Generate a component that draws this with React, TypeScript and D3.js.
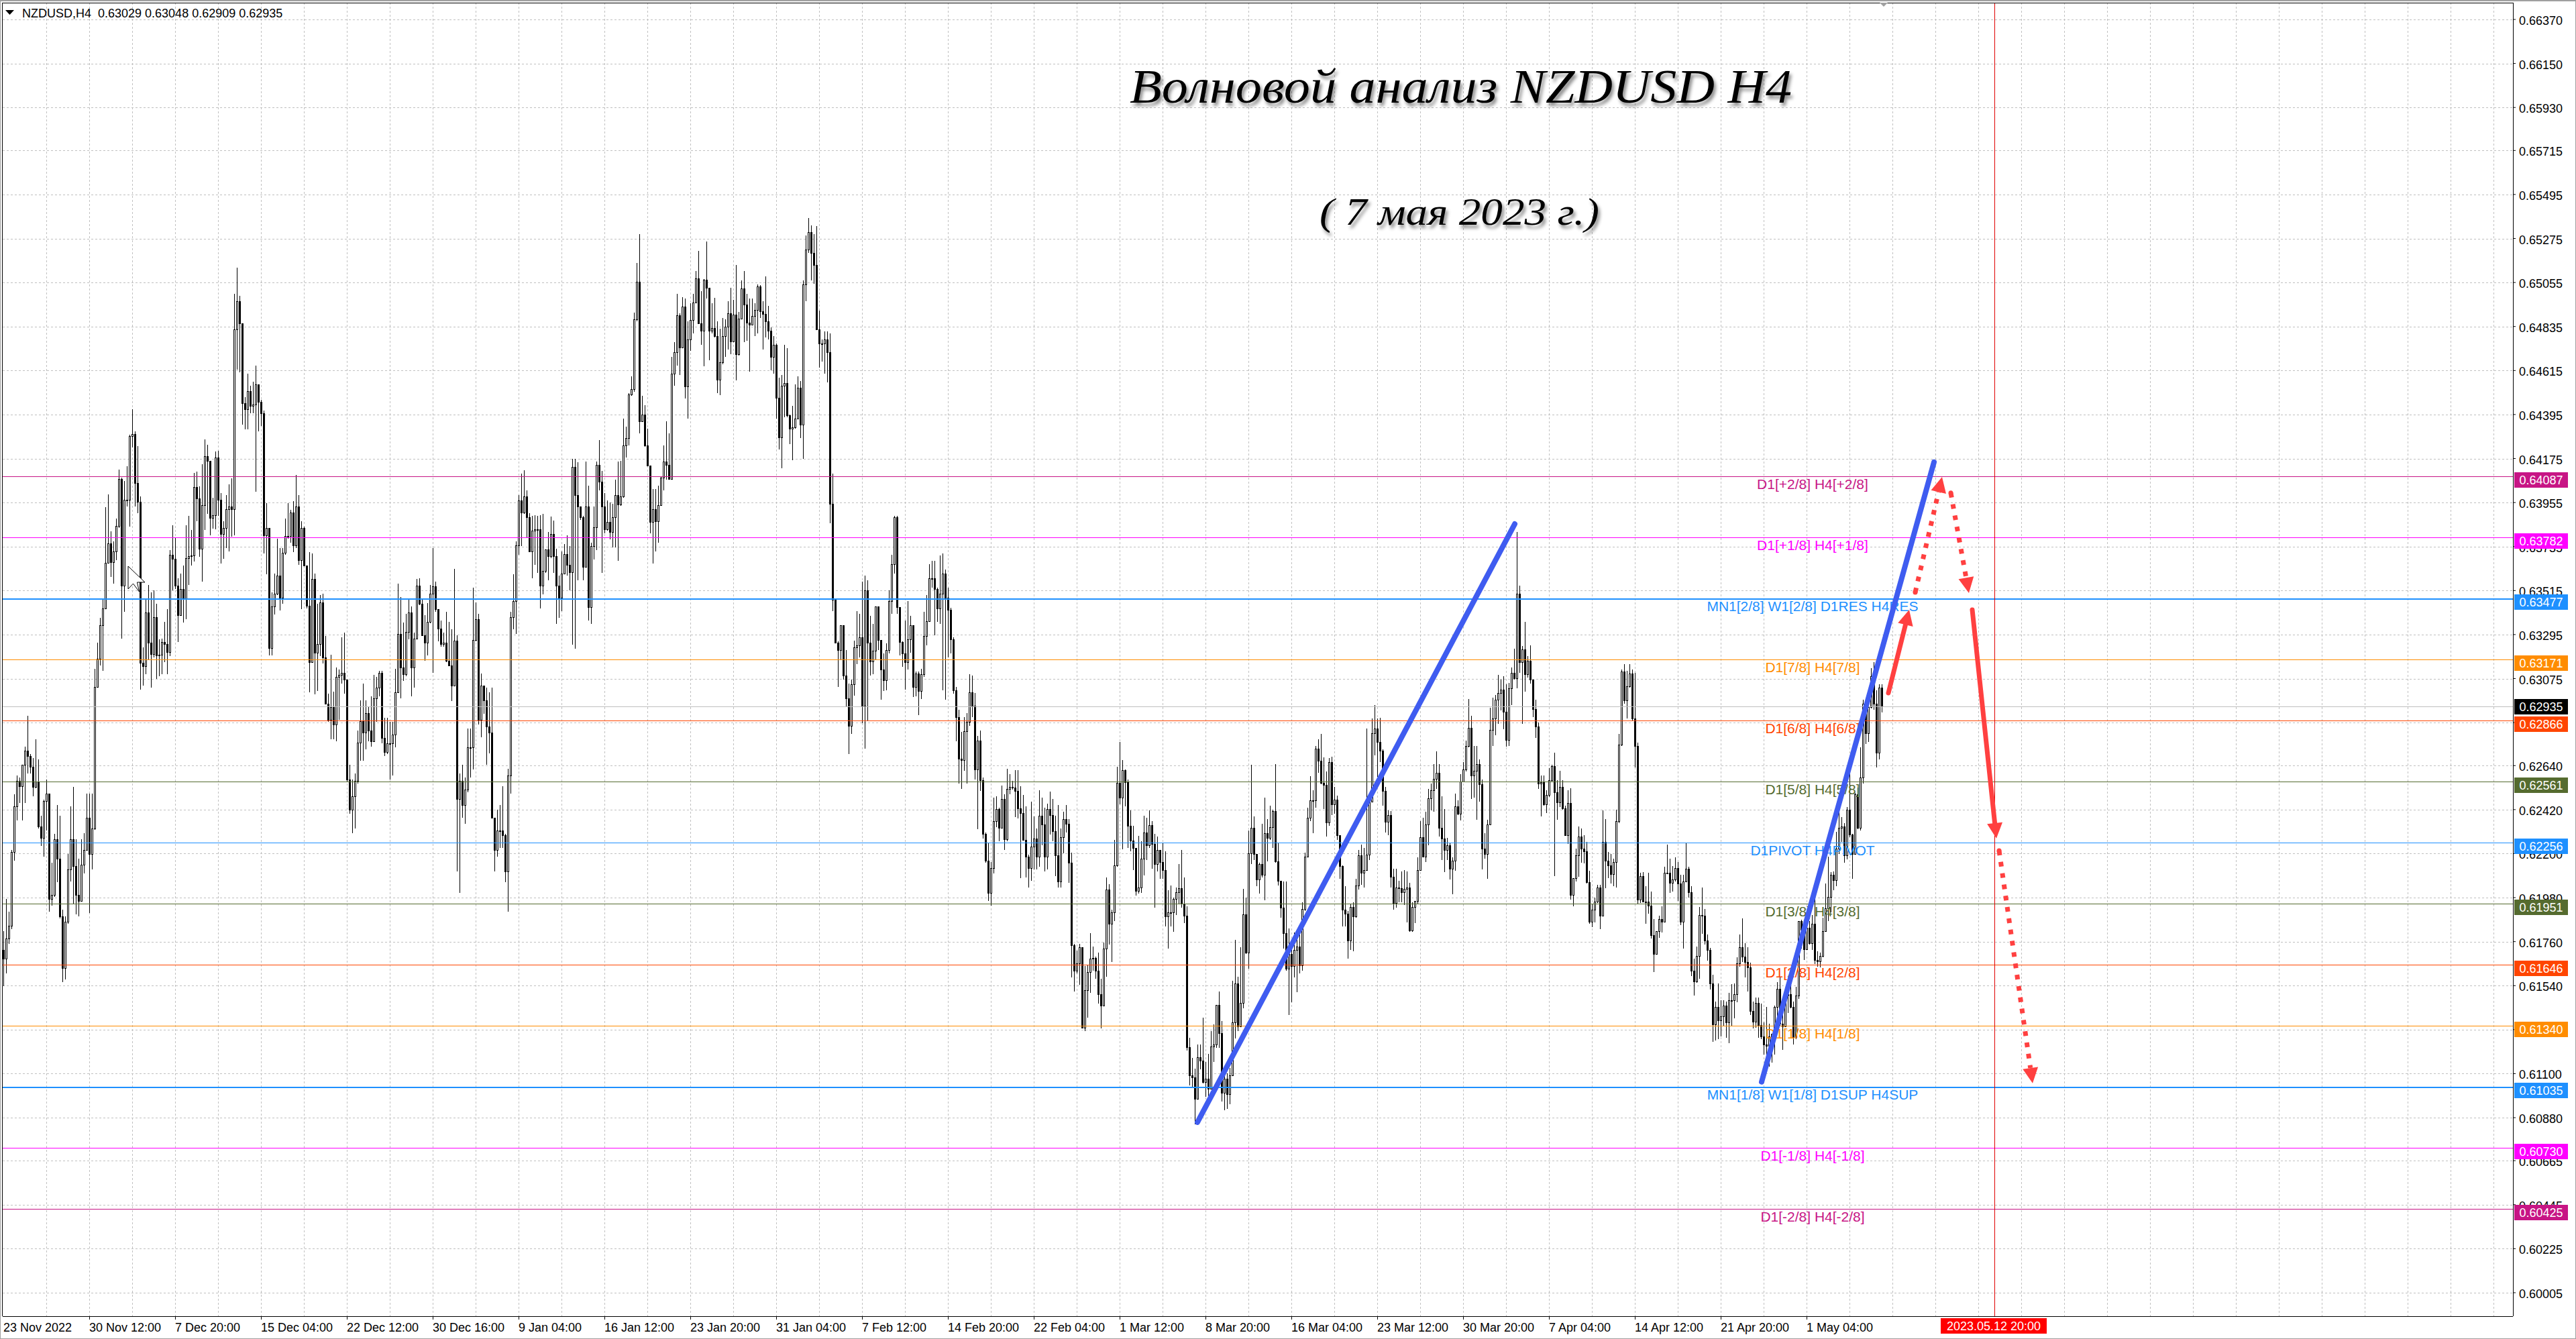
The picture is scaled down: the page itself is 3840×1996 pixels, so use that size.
import React from "react";
import * as d3 from "d3";

const symbolHeader = "NZDUSD,H4  0.63029 0.63048 0.62909 0.62935";
const titleText = "Волновой анализ NZDUSD H4";
const subtitleText = "( 7 мая 2023 г.)";
const lastBarTimeTag = "2023.05.12 20:00";

const yTicks = ["0.66370","0.66150","0.65930","0.65715","0.65495","0.65275","0.65055","0.64835","0.64615","0.64395","0.64175","0.63955","0.63735","0.63515","0.63295","0.63075","0.62855","0.62640","0.62420","0.62200","0.61980","0.61760","0.61540","0.61320","0.61100","0.60880","0.60665","0.60445","0.60225","0.60005"];
const xTickLabels = ["23 Nov 2022","30 Nov 12:00","7 Dec 20:00","15 Dec 04:00","22 Dec 12:00","30 Dec 16:00","9 Jan 04:00","16 Jan 12:00","23 Jan 20:00","31 Jan 04:00","7 Feb 12:00","14 Feb 20:00","22 Feb 04:00","1 Mar 12:00","8 Mar 20:00","16 Mar 04:00","23 Mar 12:00","30 Mar 20:00","7 Apr 04:00","14 Apr 12:00","21 Apr 20:00","1 May 04:00"];

// Prices below are in points above 0.60000
const firstOpen = 1717;
const closes = [
1674,1774,1838,2207,2436,2564,2538,2645,2713,2687,
2634,2534,2559,2335,2278,2463,2500,1973,1994,2271,
2175,1888,1627,1860,2122,2271,2137,1994,1962,2144,
2218,2378,2197,2325,3033,3175,3343,3424,3653,3751,
3656,3709,3837,4073,3541,3969,3969,4288,4299,4053,
3958,3153,3138,3404,3253,3197,3382,3192,3194,3259,
3248,3209,3695,3673,3541,3393,3522,3477,3678,3686,
3690,4034,3977,3723,3941,4187,4162,3880,3891,4181,
3969,3798,3828,3921,3935,3921,4820,4960,4850,4453,
4422,4511,4438,4446,4545,4457,4403,3790,3827,3228,
3435,3500,3589,3480,3704,3787,3787,3904,3740,3935,
3667,3827,3639,3438,3158,3574,3205,3248,3455,3181,
2948,2869,2933,2847,3082,3093,3104,3071,2570,2421,
2485,2564,2756,2862,2805,2901,2815,2762,2975,3029,
3103,2777,2709,2751,2751,2794,3007,3298,3130,3097,
3309,3404,3130,3276,3541,3449,3293,3253,3360,3500,
3536,3421,3326,3248,3253,3164,3142,3041,3265,2474,
2564,2442,2521,2730,2730,3268,3373,2869,3039,2965,
2837,2805,2378,2218,2314,2314,2293,2111,2591,3383,
3463,3742,3964,3904,3986,3882,3712,3814,3822,3822,
3540,3612,3720,3687,3799,3687,3540,3478,3600,3697,
3642,3608,4132,3994,3937,3882,3635,3937,3433,3739,
3832,4144,4061,3934,3822,3859,3807,3882,3993,3946,
3986,4241,4278,4495,4521,4870,5060,4361,4395,4241,
4141,3859,3922,3862,3942,4081,4159,4143,4072,4600,
4705,4892,4730,4934,4536,4770,4867,4955,5075,4850,
4814,5069,5030,4814,4829,4787,4570,4656,4787,4835,
4900,4760,4895,4695,4874,5024,4945,4855,4844,4889,
4919,5034,4910,4898,4862,4814,4683,4742,4480,4281,
4540,4551,4391,4326,4331,4376,4530,4346,5045,5221,
5308,5204,5144,4820,4750,4750,4769,4705,3949,3470,
3253,3218,3343,3090,2977,2839,3047,3231,3241,3283,
2938,3515,3253,3160,3215,3437,3268,3122,3066,3218,
3463,3647,3882,3433,3259,3202,3156,3272,3343,3032,
3100,3013,3096,3287,3362,3575,3578,3523,3425,3500,
3600,3480,3420,3272,3015,2882,2673,2669,2811,2859,
3006,2938,2621,2765,2566,2300,2166,2005,2127,2361,
2422,2329,2474,2271,2522,2535,2531,2515,2425,2403,
2268,2185,2127,2236,2275,2185,2390,2345,2185,2422,
2394,2313,2191,2061,2281,2371,2348,2153,1742,1614,
1650,1732,1328,1518,1608,1676,1678,1614,1496,1441,
1727,2022,1851,1907,2140,2553,2480,2617,2557,2339,
2266,2227,2014,2031,2176,2307,2242,2343,2249,2147,
2220,2157,2118,1885,1907,1907,1973,2006,2026,1951,
1890,1231,1090,1081,974,1183,1166,1057,1075,1023,
1235,1246,1442,1304,1003,1075,999,1093,1358,1551,
1337,1453,1896,1704,2201,2329,2198,2070,2147,2093,
2303,2278,2332,2413,2162,2064,1929,1802,1624,1700,
1638,1718,1736,1643,1922,2186,2380,2467,2467,2724,
2663,2554,2544,2355,2656,2445,2471,2292,2137,1919,
1900,1765,1932,1888,2041,2191,2103,2118,2195,2460,
2801,2826,2758,2714,2515,2358,2394,2085,1954,2031,
2026,2007,2023,2032,1817,1933,1962,2118,2282,2186,
2346,2477,2518,2573,2605,2329,2274,2220,2242,2125,
2166,2435,2399,2561,2620,2739,2828,2592,2614,2648,
2546,2224,2198,2347,2819,2877,2968,3002,3019,2908,
2768,3025,3105,3076,3499,3156,3220,3096,3165,3071,
2922,2836,2549,2558,2446,2494,2566,2638,2506,2455,
2532,2426,2292,2453,1993,2079,2193,2284,2224,2210,
2056,1861,1919,1959,2032,1890,2258,2164,2142,2096,
2159,2364,2746,3110,2965,3037,3100,2877,2737,1971,
2087,1959,1959,1941,1793,1697,1813,1873,1861,2104,
2104,2053,2070,2127,2049,1861,2061,2125,2006,1614,
1561,1690,1892,1890,1764,1718,1551,1347,1433,1367,
1385,1440,1357,1468,1468,1496,1653,1732,1686,1658,
1632,1415,1361,1454,1343,1287,1246,1239,1286,1300,
1433,1524,1350,1336,1489,1496,1433,1283,1492,1864,
1820,1722,1829,1753,1850,1670,1663,1690,1811,1927,
1982,2093,2066,2226,2330,2337,2191,2420,2295,2198,
2497,2330,2580,2948,2802,2934,3087,2951,2705,3029,2935];

const highs = [
1813,1973,1909,2220,2495,2591,2581,2645,2734,2890,
2698,2677,2773,2670,2389,2470,2570,2240,2154,2300,
2442,2389,1920,1888,2197,2436,2534,2271,2175,2271,
2303,2500,2500,2500,3125,3253,3380,3471,3932,3997,
3812,3760,3874,4120,4081,4064,4137,4295,4422,4310,
4237,3986,3231,3471,3544,3505,3516,3449,3270,3276,
3360,3421,3717,3840,3779,3578,3600,3640,3840,3888,
3818,4103,4109,4036,4148,4271,4243,4114,3980,4209,
4215,4002,3863,3991,4045,4075,5000,5129,4990,4620,
4483,4600,4540,4560,4640,4540,4470,4416,3952,3827,
3505,3600,3773,3729,3729,3876,3952,3919,3963,4092,
3991,3863,3835,3639,3706,3701,3600,3449,3494,3499,
3287,3000,3194,3010,3130,3120,3281,3304,3071,2645,
2570,2600,2815,2965,3050,2965,2933,2986,3093,3082,
3114,3114,2880,2880,2858,2858,3125,3550,3483,3354,
3400,3471,3437,3304,3572,3578,3472,3393,3452,3544,
3729,3561,3365,3365,3304,3410,3360,3320,3622,3290,
2600,2645,2581,2826,2826,3530,3455,3400,3100,3040,
3029,3007,3029,2378,2420,2442,2538,2300,2623,3410,
3597,3762,3994,4099,4117,4016,3901,3889,3892,3889,
3892,3897,3720,3807,3886,3865,3724,3590,3710,3747,
3792,3739,4174,4174,4156,3919,3889,4159,4039,3755,
3934,4159,4267,4114,4001,3964,3957,3949,4069,4159,
4162,4376,4335,4503,4585,4904,5151,5296,4488,4443,
4323,3963,4024,4024,4039,4084,4241,4361,4301,4683,
4757,4997,4900,4982,4974,4862,4952,4997,5114,5214,
5012,5072,5259,5000,4952,4979,4862,4825,4877,4870,
4960,5027,4967,5144,4907,5064,5114,4997,4975,4975,
4952,5045,5042,4960,5084,4937,4832,4787,4750,4578,
4593,4745,4727,4395,4440,4545,4585,4563,5064,5289,
5379,5341,5296,5338,4915,4772,4810,4810,4802,4099,
3470,3260,3343,3343,3218,3050,3071,3266,3413,3398,
3560,3590,3567,3388,3347,3437,3437,3260,3200,3250,
3515,3695,3889,3889,3433,3260,3365,3462,3388,3343,
3112,3109,3125,3410,3493,3647,3664,3664,3530,3690,
3700,3620,3530,3430,3282,3032,2920,2807,2884,2904,
3096,3089,3002,2788,2814,2579,2304,2256,2159,2480,
2487,2429,2540,2497,2625,2596,2564,2617,2617,2538,
2493,2435,2194,2461,2386,2326,2516,2480,2429,2451,
2510,2474,2390,2442,2326,2410,2442,2371,2204,1748,
1714,1749,1726,1637,1640,1804,1736,1685,1704,1575,
1755,2082,2048,1920,2268,2634,2759,2669,2621,2570,
2416,2339,2230,2288,2262,2391,2380,2416,2361,2300,
2285,2198,2256,2212,2016,2041,1980,2031,2147,2217,
2082,1936,1279,1180,1125,1246,1246,1381,1158,1198,
1314,1347,1442,1512,1362,1107,1100,1129,1565,1769,
1584,1733,2023,1980,2314,2644,2387,2176,2154,2348,
2481,2372,2438,2419,2646,2256,2064,2060,2060,1827,
1718,1805,1813,1820,1958,2205,2431,2588,2518,2739,
2772,2797,2681,2612,2678,2685,2532,2489,2292,2140,
2038,1914,1951,1958,2074,2220,2245,2227,2826,2489,
2874,2942,2874,2878,2721,2532,2416,2413,2125,2125,
2064,2111,2118,2111,2053,1958,1965,2183,2361,2380,
2409,2525,2550,2646,2710,2649,2486,2423,2278,2256,
2183,2500,2467,2598,2658,2765,2972,2888,2737,2737,
2672,2570,2301,2369,2930,2980,2994,3093,3071,3088,
3045,3053,3131,3225,3807,3541,3237,3357,3186,3242,
3071,2968,2857,2592,2592,2518,2626,2643,2703,2566,
2614,2566,2438,2518,2527,2079,2224,2335,2327,2292,
2258,2113,1950,1981,2044,2044,2415,2374,2207,2198,
2176,2420,2797,3122,3148,3114,3148,3122,3102,2754,
2104,2107,2036,2104,2010,1873,1813,1890,1936,2135,
2244,2175,2138,2181,2159,2095,2095,2254,2135,2036,
1676,1736,1933,2032,1924,1796,1728,1593,1461,1551,
1468,1468,1461,1503,1547,1551,1683,1795,1875,1753,
1732,1656,1461,1482,1482,1449,1357,1433,1350,1300,
1440,1558,1586,1475,1503,1530,1547,1461,1534,1864,
1871,1864,1864,1864,1892,1989,1711,1704,1878,2052,
2184,2107,2111,2309,2406,2381,2351,2434,2601,2298,
2504,2531,2733,2969,2955,2934,3126,3157,3018,3046,3048];

const lows = [
1536,1600,1749,1824,2165,2367,2453,2367,2453,2602,
2602,2485,2527,2325,2239,2186,2314,1909,1941,1983,
2058,1877,1557,1570,1850,2060,1950,1898,1888,1962,
2100,2220,1902,2120,2320,3030,3140,3114,3421,3656,
3583,3550,3667,3829,3276,3410,3935,3835,4232,3935,
3902,3019,3041,3097,3168,3030,3180,3075,3086,3097,
3157,3097,3186,3516,3522,3259,3390,3355,3371,3544,
3641,3661,3863,3684,3561,3818,3900,3790,3824,3820,
3890,3650,3673,3729,3712,3784,3790,4620,4606,4343,
4321,4321,4400,4400,4008,4310,4339,3700,3597,3192,
3192,3395,3494,3415,3449,3695,3773,3753,3706,3729,
3645,3421,3639,3427,3007,3158,2996,3013,3186,3150,
2948,2858,2773,2773,2762,2869,3050,3000,2559,2400,
2303,2325,2549,2666,2666,2720,2762,2734,2794,2858,
2986,2752,2687,2698,2570,2591,2730,3003,2975,3063,
3086,3271,2985,3030,3270,3443,3293,3164,3192,3353,
3103,3410,3260,3236,3236,3158,3136,2963,3041,2111,
2005,2378,2350,2506,2580,2620,3260,2847,2783,2900,
2645,2700,2378,2111,2186,2229,2230,2058,1909,2500,
3320,3298,3695,3739,3897,3777,3710,3578,3642,3605,
3425,3497,3605,3567,3677,3605,3347,3380,3413,3605,
3590,3515,3245,3223,3567,3867,3567,3634,3365,3350,
3672,3717,4016,3605,3800,3815,3770,3732,3732,3665,
3940,3979,4180,4240,4488,4510,4862,4301,4391,4233,
4136,3800,3650,3712,3754,4004,4016,4069,4069,4069,
4540,4638,4593,4727,4476,4376,4712,4802,4952,4847,
4745,4635,4975,4665,4802,4780,4503,4491,4645,4682,
4720,4697,4757,4566,4690,4885,4757,4765,4608,4840,
4787,4802,4877,4720,4780,4772,4615,4600,4376,4221,
4126,4383,4383,4248,4166,4323,4376,4278,4174,4960,
5203,5064,5049,4820,4630,4660,4600,4555,3852,3413,
3253,3032,3170,3070,2933,2698,2797,2990,3147,3180,
2852,2724,2865,3090,3096,3166,3218,2968,3013,3015,
3202,3400,3600,3400,3190,3135,3019,3122,3205,2984,
2987,2891,2974,3083,3240,3360,3530,3290,3360,3350,
3015,2968,3180,3200,3000,2762,2551,2525,2615,2551,
2839,2884,2570,2322,2512,2275,2153,1963,1941,2102,
2333,2262,2326,2217,2262,2497,2519,2381,2377,2079,
2268,2082,2031,2063,2121,2121,2133,2243,2112,2121,
2294,2262,2089,2031,2031,2202,2307,2053,1582,1511,
1600,1543,1325,1313,1379,1505,1616,1575,1450,1325,
1441,1586,1745,1659,1864,2134,2445,2223,2435,2230,
2211,2117,1989,1999,2005,2090,2167,2227,2125,1929,
2111,2074,2074,1835,1725,1835,1808,1893,1951,1929,
1852,1217,1042,1032,846,1037,1122,1050,984,984,
1020,1158,1230,1230,962,918,925,947,1093,1275,
1313,1427,1427,1700,1624,2147,2169,2038,2002,2082,
1968,2162,2270,2230,2154,2041,1881,1725,1616,1395,
1457,1580,1507,1602,1616,1914,2183,2361,2303,2431,
2605,2547,2423,2285,2340,2394,2401,2268,2074,1835,
1835,1674,1718,1711,1881,2020,2045,2031,2140,2169,
2460,2692,2583,2656,2438,2307,2292,2031,1919,1929,
1958,1958,1943,1856,1810,1810,1852,1951,2118,2183,
2157,2242,2416,2409,2525,2285,2169,2108,2169,2070,
1997,2114,2394,2365,2590,2610,2733,2472,2480,2369,
2460,2121,2174,2073,2352,2737,2792,2848,2917,2823,
2734,2737,2942,3071,3028,3105,2848,3011,3080,3049,
2883,2780,2523,2387,2438,2403,2484,2557,2087,2369,
2433,2421,2289,2250,1971,1937,2061,2084,2155,2152,
2050,1848,1834,1856,1952,1822,2021,2027,2079,2052,
2036,2032,2352,2737,2951,2877,3031,2866,2631,1950,
1952,1959,1848,1899,1776,1608,1696,1779,1805,1855,
2097,2005,2010,2061,1963,1843,1724,2063,1981,1587,
1490,1556,1574,1800,1745,1664,1522,1260,1266,1273,
1287,1336,1280,1252,1336,1378,1458,1635,1658,1580,
1510,1394,1325,1329,1280,1273,1197,1155,1134,1155,
1197,1350,1336,1218,1336,1405,1426,1246,1273,1475,
1726,1667,1718,1746,1718,1649,1635,1630,1683,1809,
1862,1906,2017,2038,2198,2260,2156,2173,2281,2073,
2198,2323,2316,2552,2747,2757,2927,2918,2631,2670,2907];

const levelValues = [0.64087,0.63782,0.63477,0.63171,0.62866,0.62561,0.62256,0.61951,0.61646,0.6134,0.61035,0.6073,0.60425];
const levelColors = ["#C71585","#FF00FF","#1E90FF","#FF8C00","#FF4500","#556B2F","#1E90FF","#556B2F","#FF4500","#FF8C00","#1E90FF","#FF00FF","#C71585"];
const levelThick = [1,1,2,1,1,1,1,1,1,1,2,1,1];
const levelLabels = ["D1[+2/8] H4[+2/8]","D1[+1/8] H4[+1/8]","MN1[2/8] W1[2/8] D1RES H4RES","D1[7/8] H4[7/8]","D1[6/8] H4[6/8]","D1[5/8] H4[5/8]","D1PIVOT H4PIVOT","D1[3/8] H4[3/8]","D1[2/8] H4[2/8]","D1[1/8] H4[1/8]","MN1[1/8] W1[1/8] D1SUP H4SUP","D1[-1/8] H4[-1/8]","D1[-2/8] H4[-2/8]"];
const bidValue = 0.62935;

// Trend lines and forecast arrows: [bar index, points] pairs
const trendLines = [[[445,857],[563.25,3848]],[[655.25,1059],[719.5,4157]]];
const arrows = [
  { from:[702.5,3003], to:[710.25,3419], dotted:false },
  { from:[712.5,3506], to:[722.5,4083], dotted:true },
  { from:[725.75,4003], to:[732.5,3503], dotted:true },
  { from:[733.75,3419], to:[742.75,2276], dotted:false },
  { from:[743.75,2215], to:[756.25,1052], dotted:true },
];
const forecastBar = 742;

const W = 3840, H = 1996;
const left = 4, right = 3746, top = 4, bottom = 1962;
const BLUE = "#3F5CF0", RED = "#FF4040";
const font = "'Liberation Sans', Arial, sans-serif";

const x = d3.scaleLinear().domain([0, 1]).range([5, 9]);
const y = d3.scaleLinear().domain([0.6637, 0.60005]).range([29, 1927]);
const fromPts = (p: number) => 0.6 + p / 1e5;

function Arrow({ a }: { a: any }) {
  const x0 = x(a.from[0]), y0 = y(fromPts(a.from[1]));
  const x1 = x(a.to[0]), y1 = y(fromPts(a.to[1]));
  const len = Math.hypot(x1 - x0, y1 - y0);
  const ux = (x1 - x0) / len, uy = (y1 - y0) / len;
  const bx = x1 - ux * 23, by = y1 - uy * 23;
  const hw = 11.5;
  return (
    <g>
      <line x1={x0} y1={y0} x2={bx} y2={by} stroke={RED} strokeWidth={7}
        strokeLinecap={a.dotted ? "butt" : "round"} strokeDasharray={a.dotted ? "7 10" : undefined} />
      {a.dotted && <circle cx={x0} cy={y0} r={3.5} fill={RED} />}
      <polygon fill={RED} points={`${x1},${y1} ${bx - uy * hw},${by + ux * hw} ${bx + uy * hw},${by - ux * hw}`} />
    </g>
  );
}

export default function App() {
  const gridX = d3.range(5 + 64, right, 64);
  const gridYs = yTicks.map((t) => y(+t));
  return (
    <svg width={W} height={H} viewBox={`0 0 ${W} ${H}`} style={{ position: "absolute", left: 0, top: 0, background: "#fff" }} fontFamily={font}>
      <defs>
        <filter id="sh" x="-5%" y="-20%" width="110%" height="150%">
          <feDropShadow dx="3" dy="5" stdDeviation="2.5" floodColor="#000" floodOpacity="0.45" />
        </filter>
      </defs>
      <rect x={0} y={0} width={W} height={H} fill="#fff" />
      <rect x={0.5} y={0.5} width={W - 1} height={H - 1} fill="none" stroke="#a0a0a0" />
      <rect x={0} y={0} width={W} height={2} fill="#a0a0a0" />

      {/* grid */}
      <g stroke="#c0c0c0" strokeWidth={1} strokeDasharray="3 3" shapeRendering="crispEdges">
        {gridX.map((gx) => <line key={gx} x1={gx + 0.5} x2={gx + 0.5} y1={top} y2={bottom} />)}
        {gridYs.map((gy, i) => <line key={i} x1={left} x2={right} y1={Math.round(gy) + 0.5} y2={Math.round(gy) + 0.5} />)}
      </g>

      {/* candles */}
      <g shapeRendering="crispEdges">
        {closes.map((c, i) => {
          const o = i === 0 ? firstOpen : closes[i - 1];
          const hi = Math.max(highs[i] ?? c, o, c), lo = Math.min(lows[i] ?? c, o, c);
          const X = x(i);
          const yTop = Math.round(y(fromPts(Math.max(o, c))));
          const yBot = Math.round(y(fromPts(Math.min(o, c))));
          return (
            <g key={i}>
              <line x1={X + 0.5} x2={X + 0.5} y1={y(fromPts(hi))} y2={y(fromPts(lo))} stroke="#000" />
              <rect x={X - 0.5} y={yTop + 0.5} width={2} height={Math.max(yBot - yTop, 1)} fill={c >= o ? "#fff" : "#000"} stroke="#000" />
            </g>
          );
        })}
      </g>

      {/* mouse pointer caught in the screenshot */}
      <polygon points="191,844 216,868 204.5,868 207.5,882 198.5,870 191,878" fill="#fff" stroke="#000" strokeWidth={1} />

      {/* levels */}
      <g shapeRendering="crispEdges">
        <line x1={left} x2={right} y1={Math.round(y(bidValue)) + 0.5} y2={Math.round(y(bidValue)) + 0.5} stroke="#c0c0c0" />
        {levelValues.map((v, i) => (
          <line key={v} x1={left} x2={right} y1={Math.round(y(v)) + 0.5} y2={Math.round(y(v)) + 0.5} stroke={levelColors[i]} strokeWidth={levelThick[i]} />
        ))}
        <line x1={x(forecastBar) + 0.5} x2={x(forecastBar) + 0.5} y1={top} y2={bottom} stroke="#e00000" />
      </g>
      <g fontSize={21} textAnchor="middle">
        {levelValues.map((v, i) => (
          <text key={v} x={2702} y={y(v) + 19} fill={levelColors[i]}>{levelLabels[i]}</text>
        ))}
      </g>

      {/* trend lines */}
      {trendLines.map((l, i) => (
        <line key={i} x1={x(l[0][0])} y1={y(fromPts(l[0][1]))} x2={x(l[1][0])} y2={y(fromPts(l[1][1]))} stroke={BLUE} strokeWidth={8} strokeLinecap="round" />
      ))}
      {arrows.map((a, i) => <Arrow key={i} a={a} />)}

      {/* title */}
      <g fontFamily="'Liberation Serif', serif" fontStyle="italic" fill="#000" filter="url(#sh)">
        <text x={1684} y={153} fontSize={72} textLength={987} lengthAdjust="spacingAndGlyphs">{titleText}</text>
        <text x={1967} y={335} fontSize={56} textLength={417} lengthAdjust="spacingAndGlyphs">{subtitleText}</text>
      </g>

      {/* frame */}
      <g shapeRendering="crispEdges">
        <line x1={left - 0.5} x2={left - 0.5} y1={top} y2={bottom} stroke="#000" />
        <line x1={left} x2={right} y1={top + 0.5} y2={top + 0.5} stroke="#000" />
        <line x1={left} x2={right} y1={bottom + 0.5} y2={bottom + 0.5} stroke="#000" />
        <line x1={right + 0.5} x2={right + 0.5} y1={top} y2={bottom} stroke="#000" />
      </g>
      <polygon points="2802,4 2814,4 2808,10" fill="#a0a0a0" />

      {/* header */}
      <polygon points="8,15 21,15 14.5,22" fill="#000" />
      <text x={33} y={26} fontSize={18} fill="#000" xmlSpace="preserve">{symbolHeader}</text>

      {/* y axis */}
      <g fontSize={18} fill="#000">
        {yTicks.map((t, i) => (
          <g key={t}>
            <line x1={right} x2={right + 4} y1={gridYs[i]} y2={gridYs[i]} stroke="#000" />
            <text x={3755} y={gridYs[i] + 8}>{t}</text>
          </g>
        ))}
      </g>

      {/* x axis */}
      <g fontSize={18} fill="#000">
        {xTickLabels.map((t, i) => {
          const tx = 5 + 128 * i;
          return (
            <g key={t}>
              {i > 0 && <line x1={tx + 0.5} x2={tx + 0.5} y1={bottom} y2={bottom + 5} stroke="#000" />}
              <text x={tx} y={1985}>{t}</text>
            </g>
          );
        })}
      </g>

      {/* price tags */}
      <g fontSize={18} textAnchor="middle">
        {levelValues.map((v, i) => {
          const ly = Math.round(y(v));
          return (
            <g key={v}>
              <rect x={3748} y={ly - 6} width={80} height={23} fill={levelColors[i]} />
              <text x={3788} y={ly + 12} fill="#fff">{v.toFixed(5)}</text>
            </g>
          );
        })}
        <rect x={3748} y={Math.round(y(bidValue)) - 11} width={80} height={23} fill="#000" />
        <text x={3788} y={Math.round(y(bidValue)) + 7} fill="#fff">{bidValue.toFixed(5)}</text>
      </g>
      <rect x={2893} y={1965} width={158} height={23} fill="#ff0000" />
      <text x={2972} y={1983} fontSize={18} fill="#fff" textAnchor="middle">{lastBarTimeTag}</text>
    </svg>
  );
}
